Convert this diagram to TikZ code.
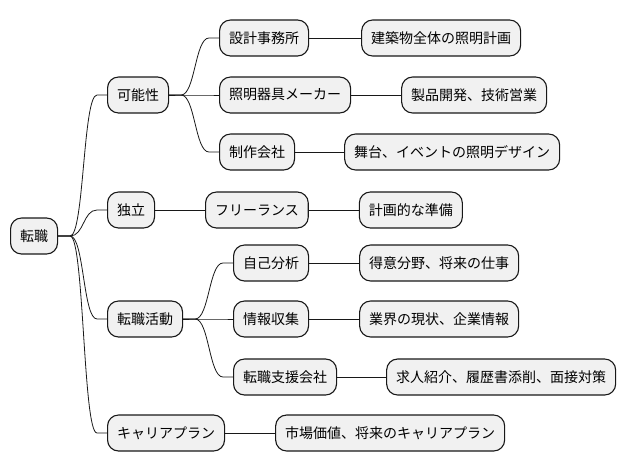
\documentclass[tikz,border=0pt]{standalone}
\usepackage{fontspec}
\setmainfont{Noto Sans CJK JP}
\usetikzlibrary{positioning}
\usetikzlibrary{calc}
\definecolor{boxfill}{HTML}{F1F1F1}
\definecolor{ink}{HTML}{181818}
\tikzset{topic/.style={draw=ink, line width=1.1pt, fill=boxfill, rounded corners=11pt,
    minimum height=36pt, inner xsep=9.5pt, inner ysep=0pt, anchor=west,
    font=\fontsize{14}{16}\selectfont}}
\tikzset{branch/.style={to path={(\tikztostart.east) -- ++(12,0)
    .. controls +(14,0) and +(-14,0) .. ($(\tikztotarget.west)+(-10,0)$) -- (\tikztotarget.west)}}}
\tikzset{link/.style={draw=ink, line width=0.8pt}}

\begin{document}
\begin{tikzpicture}[x=1pt, y=-1pt, node distance=50pt]
\useasboundingbox (0,0) rectangle (628,471);

\node (tenshoku) [topic] at (10,236) {転職};

\node (kanou) [topic] at (107,95) {可能性};
\node (dokuritsu) [topic] at (107,210) {独立};
\node (katsudou) [topic] at (107,319) {転職活動};
\node (career) [topic] at (107,433) {キャリアプラン};

\node (sekkei) [topic] at (219,38) {設計事務所};
\node (kigu) [topic] at (219,95) {照明器具メーカー};
\node (seisaku) [topic] at (219,152) {制作会社};
\node (free) [topic] at (205,210) {フリーランス};
\node (jiko) [topic] at (233,263) {自己分析};
\node (jouhou) [topic] at (233,319) {情報収集};
\node (shien) [topic] at (233,377) {転職支援会社};
\node (shijou) [topic, right=50pt of career] {市場価値、将来のキャリアプラン};

\node (keikaku) [topic, right=52pt of sekkei] {建築物全体の照明計画};
\node (seihin) [topic, right=50pt of kigu] {製品開発、技術営業};
\node (butai) [topic, right=49pt of seisaku] {舞台、イベントの照明デザイン};
\node (junbi) [topic, right=50pt of free] {計画的な準備};
\node (tokui) [topic, right=50pt of jiko] {得意分野、将来の仕事};
\node (gyoukai) [topic, right=50pt of jouhou] {業界の現状、企業情報};
\node (kyujin) [topic, right=49pt of shien] {求人紹介、履歴書添削、面接対策};

\draw[link, branch] (tenshoku) to (kanou);
\draw[link, branch] (tenshoku) to (dokuritsu);
\draw[link, branch] (tenshoku) to (katsudou);
\draw[link, branch] (tenshoku) to (career);

\draw[link, branch] (kanou) to (sekkei);
\draw[link, branch] (kanou) to (kigu);
\draw[link, branch] (kanou) to (seisaku);
\draw[link] (dokuritsu) -- (free);
\draw[link, branch] (katsudou) to (jiko);
\draw[link, branch] (katsudou) to (jouhou);
\draw[link, branch] (katsudou) to (shien);
\draw[link] (career) -- (shijou);

\draw[link] (sekkei) -- (keikaku);
\draw[link] (kigu) -- (seihin);
\draw[link] (seisaku) -- (butai);
\draw[link] (free) -- (junbi);
\draw[link] (jiko) -- (tokui);
\draw[link] (jouhou) -- (gyoukai);
\draw[link] (shien) -- (kyujin);
\end{tikzpicture}
\end{document}
